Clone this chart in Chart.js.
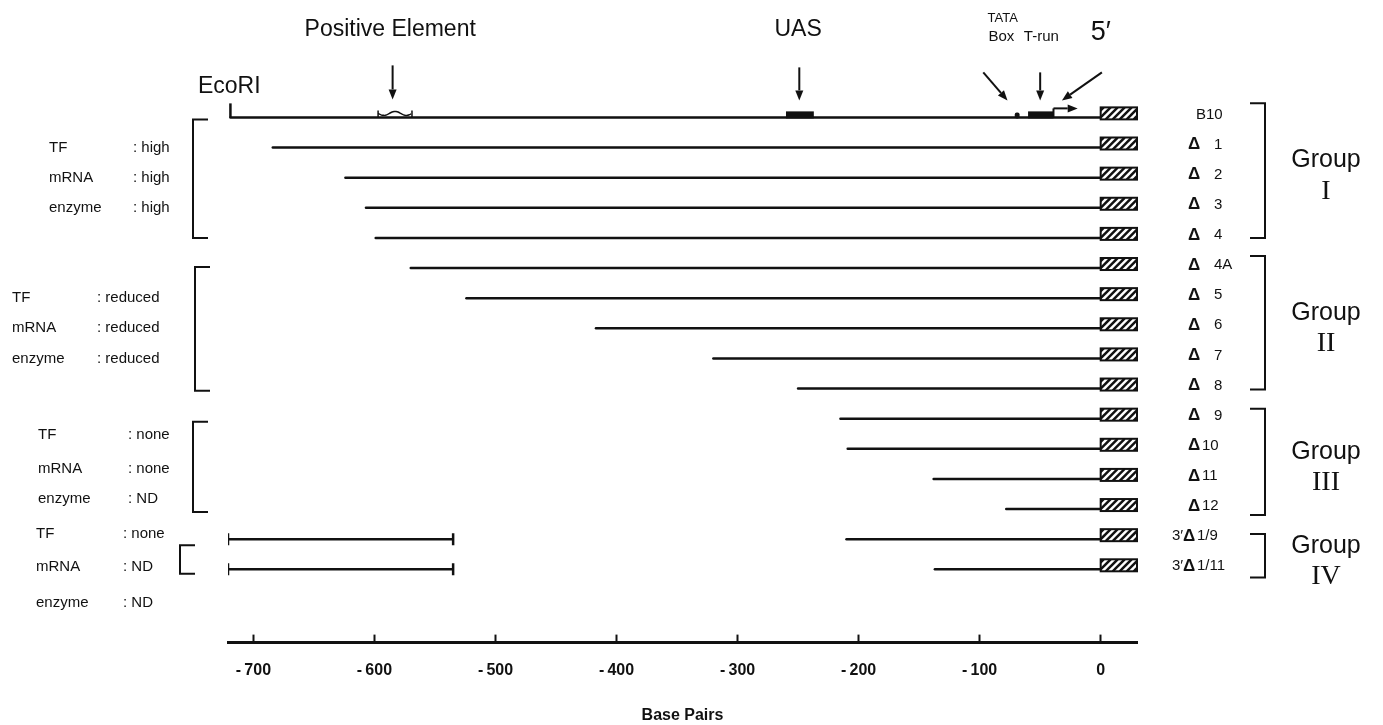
<!DOCTYPE html>
<html>
<head>
<meta charset="utf-8">
<script src="https://cdn.jsdelivr.net/npm/chart.js@4.4.1/dist/chart.umd.min.js"></script>
<style>
  body { margin: 0; background: #fff; }
  #wrap { width: 1383px; height: 725px; }
</style>
</head>
<body>
<div id="wrap"><canvas id="chart"></canvas></div>
<script>
// constructs, one row each (row 0 = full-length B10)
const constructs = ['B10', 'Δ 1', 'Δ 2', 'Δ 3', 'Δ 4', 'Δ 4A', 'Δ 5', 'Δ 6', 'Δ 7', 'Δ 8',
                    'Δ 9', 'Δ10', 'Δ11', 'Δ12', '3′Δ1/9', '3′Δ1/11'];
// 5' end point of each construct (bp)
const startBp = [-719, -684, -624, -607, -599, -570, -524, -417, -320, -250,
                 -215, -209, -138, -78, -210, -137];
const hatchEnd = 30;           // hatched coding region 0..+30

// upstream fragment kept in the 3' deletions
const fusionRows = [14, 15];
const fusionStart = [-721, -721];
const fusionEnd = [-535, -535];

const tickValues = [-700, -600, -500, -400, -300, -200, -100, 0];

// promoter features on B10 (bp)
const positiveElement = [-597, -569];
const uas = [-260, -237];
const tataBox = [-71, -67];
const tRun = [-60, -39];
const tss = [-39, -19];

// groups
const groupNames = ['I', 'II', 'III', 'IV'];
const groupSpan = [[-0.47, 4], [4.6, 9.03], [9.67, 13.2], [13.83, 15.27]];
const tfLevel = ['high', 'reduced', 'none', 'none'];
const mrnaLevel = ['high', 'reduced', 'none', 'ND'];
const enzymeLevel = ['high', 'reduced', 'ND', 'ND'];

const SANS = "'Liberation Sans', Arial, sans-serif";
const NARROW = "'Liberation Sans Narrow', 'Liberation Sans', sans-serif";
const SERIF = "'Liberation Serif', 'Times New Roman', serif";

function arrow(ctx, x1, y1, x2, y2) {
  const a = Math.atan2(y2 - y1, x2 - x1);
  const hl = 10, hw = 4;
  ctx.beginPath();
  ctx.moveTo(x1, y1);
  ctx.lineTo(x2 - hl * Math.cos(a), y2 - hl * Math.sin(a));
  ctx.stroke();
  ctx.beginPath();
  ctx.moveTo(x2, y2);
  ctx.lineTo(x2 - hl * Math.cos(a) + hw * Math.sin(a), y2 - hl * Math.sin(a) - hw * Math.cos(a));
  ctx.lineTo(x2 - hl * Math.cos(a) - hw * Math.sin(a), y2 - hl * Math.sin(a) + hw * Math.cos(a));
  ctx.closePath();
  ctx.fill();
}

function hatchBox(ctx, l, t, w, h) {
  ctx.fillStyle = '#fff';
  ctx.fillRect(l, t, w, h);
  ctx.save();
  ctx.beginPath();
  ctx.rect(l, t, w, h);
  ctx.clip();
  ctx.lineWidth = 2.5;
  for (let s = -h + 3; s < w + h; s += 7) {
    ctx.beginPath();
    ctx.moveTo(l + s, t + h);
    ctx.lineTo(l + s + h, t);
    ctx.stroke();
  }
  ctx.restore();
  ctx.lineWidth = 2;
  ctx.strokeRect(l, t, w, h);
}

const annotate = {
  id: 'annotate',
  afterDatasetsDraw(chart) {
    const { ctx, scales: { x, y } } = chart;
    const X = v => x.getPixelForValue(v);
    const Y = r => y.getPixelForValue(r);
    ctx.save();
    ctx.strokeStyle = '#111';
    ctx.fillStyle = '#111';
    ctx.lineCap = 'butt';

    // hatched boxes
    constructs.forEach((c, i) => {
      ctx.strokeStyle = '#111';
      hatchBox(ctx, X(0), Y(i) - 10, X(hatchEnd) - X(0), 12);
    });

    // B10 features
    const y0 = Y(0);
    ctx.fillStyle = '#111';
    ctx.lineWidth = 2.5;
    ctx.beginPath();
    ctx.moveTo(X(startBp[0]), y0);
    ctx.lineTo(X(startBp[0]), y0 - 14);
    ctx.stroke();
    ctx.fillRect(X(uas[0]), y0 - 6, X(uas[1]) - X(uas[0]), 7);
    ctx.fillRect(X(tRun[0]), y0 - 6, X(tRun[1]) - X(tRun[0]), 7);
    ctx.beginPath();
    ctx.roundRect(X(tataBox[0]), y0 - 5, X(tataBox[1]) - X(tataBox[0]), 6, 2);
    ctx.fill();
    // transcription start arrow
    ctx.lineWidth = 2;
    ctx.beginPath();
    ctx.moveTo(X(tss[0]), y0);
    ctx.lineTo(X(tss[0]), y0 - 9);
    ctx.stroke();
    arrow(ctx, X(tss[0]), y0 - 9, X(tss[1]), y0 - 9);
    // positive element wave
    const pl = X(positiveElement[0]), pr = X(positiveElement[1]);
    ctx.lineWidth = 1.5;
    ctx.beginPath();
    for (let px = pl; px <= pr; px += 1) {
      const yy = y0 - 4 + 2 * Math.sin((px - pl) / (pr - pl) * Math.PI * 3);
      if (px === pl) ctx.moveTo(px, yy); else ctx.lineTo(px, yy);
    }
    ctx.stroke();
    ctx.beginPath();
    ctx.moveTo(pl, y0); ctx.lineTo(pl, y0 - 7);
    ctx.moveTo(pr, y0); ctx.lineTo(pr, y0 - 7);
    ctx.stroke();

    // feature arrows
    ctx.lineWidth = 2;
    const ay1 = y0 - 50, ay2 = y0 - 17;
    arrow(ctx, X(-585), ay1 - 2, X(-585), ay2 - 1);
    arrow(ctx, X(-249), ay1, X(-249), ay2);
    arrow(ctx, X(-97), ay1 + 5, X(-77), ay2);
    arrow(ctx, X(-50), ay1 + 5, X(-50), ay2);
    arrow(ctx, X(1), ay1 + 5, X(-32), ay2);

    // top labels
    ctx.fillStyle = '#111';
    ctx.textAlign = 'center';
    ctx.textBaseline = 'middle';
    ctx.font = '23px ' + SANS;
    ctx.fillText('Positive Element', X(-587), 30);
    ctx.fillText('UAS', X(-250), 30);
    ctx.fillText('EcoRI', X(-720), 87);
    ctx.font = '13px ' + SANS;
    ctx.fillText('TATA', X(-81), 18);
    ctx.font = '15px ' + SANS;
    ctx.fillText('Box', X(-82), 37);
    ctx.fillText('T-run', X(-49), 37);
    ctx.font = '27px ' + SANS;
    ctx.fillText('5′', X(0), 33);

    // construct names
    ctx.textAlign = 'left';
    ctx.font = '15px ' + SANS;
    constructs.forEach((c, i) => {
      const yy = Y(i) - 3;
      if (c[0] === 'Δ') {
        ctx.font = 'bold 17px ' + SANS;
        ctx.fillText('Δ', 1188, yy);
        ctx.font = '15px ' + SANS;
        const rest = c.slice(1).trim();
        ctx.fillText(rest, c[1] === ' ' ? 1214 : 1202, yy);
      } else if (c[0] === '3') {
        ctx.fillText('3′', 1172, yy);
        ctx.font = 'bold 17px ' + SANS;
        ctx.fillText('Δ', 1183, yy);
        ctx.font = '15px ' + SANS;
        ctx.fillText(c.slice(3), 1197, yy);
      } else {
        ctx.fillText(c, 1196, yy);
      }
    });

    // right brackets and group names
    ctx.lineWidth = 2;
    groupNames.forEach((g, k) => {
      const t = Y(groupSpan[k][0]), b = Y(groupSpan[k][1]);
      ctx.beginPath();
      ctx.moveTo(1250, t); ctx.lineTo(1265, t); ctx.lineTo(1265, b); ctx.lineTo(1250, b);
      ctx.stroke();
      const mid = (t + b) / 2;
      ctx.textAlign = 'center';
      ctx.font = '25px ' + SANS;
      ctx.fillText('Group', 1326, mid - 10);
      ctx.font = '28px ' + SERIF;
      ctx.fillText(g, 1326, mid + 21);
    });

    // left expression summaries
    const leftLayout = [
      { keyX: 49, valX: 133, rows: [1, 2, 3], br: [0.07, 4], brX: 193 },
      { keyX: 12, valX: 97, rows: [6, 7, 8], br: [4.97, 9.07], brX: 195 },
      { keyX: 38, valX: 128, rows: [10.55, 11.65, 12.65], br: [10.1, 13.1], brX: 193 },
      { keyX: 36, valX: 123, rows: [13.83, 14.93, 16.1], br: [14.2, 15.15], brX: 180 }
    ];
    ctx.textAlign = 'left';
    ctx.font = '15px ' + SANS;
    leftLayout.forEach((L, k) => {
      const vals = [tfLevel[k], mrnaLevel[k], enzymeLevel[k]];
      ['TF', 'mRNA', 'enzyme'].forEach((key, j) => {
        ctx.fillText(key, L.keyX, Y(L.rows[j]));
        ctx.fillText(': ' + vals[j], L.valX, Y(L.rows[j]));
      });
      const t = Y(L.br[0]), b = Y(L.br[1]);
      ctx.beginPath();
      ctx.moveTo(L.brX + 15, t); ctx.lineTo(L.brX, t); ctx.lineTo(L.brX, b); ctx.lineTo(L.brX + 15, b);
      ctx.stroke();
    });
    ctx.restore();
  }
};

const datasets = constructs.map((c, i) => ({
  label: c,
  data: [{ x: startBp[i], y: i }, { x: 0, y: i }],
  borderColor: '#111',
  borderWidth: 2.5,
  borderCapStyle: 'round',
  pointRadius: 0,
  showLine: true
}));
fusionRows.forEach((r, k) => {
  datasets.push({
    label: 'fusion ' + constructs[r],
    data: [{ x: fusionStart[k], y: r }, { x: fusionEnd[k], y: r }],
    borderColor: '#111',
    borderWidth: 2.5,
    pointStyle: 'line',
    rotation: 90,
    pointRadius: 6,
    pointBorderWidth: 2.5,
    pointBorderColor: '#111',
    showLine: true
  });
});

new Chart(document.getElementById('chart'), {
  type: 'scatter',
  data: { datasets },
  plugins: [annotate],
  options: {
    responsive: true,
    maintainAspectRatio: false,
    animation: false,
    layout: { padding: { left: 228, right: 246, top: 27, bottom: 0 } },
    plugins: { legend: { display: false }, tooltip: { enabled: false } },
    scales: {
      x: {
        type: 'linear',
        min: -721,
        max: 30,
        afterBuildTicks: scale => { scale.ticks = tickValues.map(v => ({ value: v })); },
        border: { display: true, width: 3, color: '#111' },
        grid: { drawOnChartArea: false, drawTicks: true, tickLength: -8, tickWidth: 2, tickColor: '#111' },
        ticks: {
          padding: 26,
          autoSkip: false,
          maxRotation: 0,
          color: '#111',
          font: { family: NARROW, size: 16, weight: 'bold' },
          callback: v => v === 0 ? '0' : '-\u2009' + Math.abs(v)
        },
        title: {
          display: true,
          text: 'Base Pairs',
          color: '#111',
          font: { family: NARROW, size: 16, weight: 'bold' },
          padding: { top: 0, bottom: 0 }
        }
      },
      y: {
        type: 'linear',
        reverse: true,
        min: -3,
        max: 17.433,
        display: false
      }
    }
  }
});
</script>
</body>
</html>
